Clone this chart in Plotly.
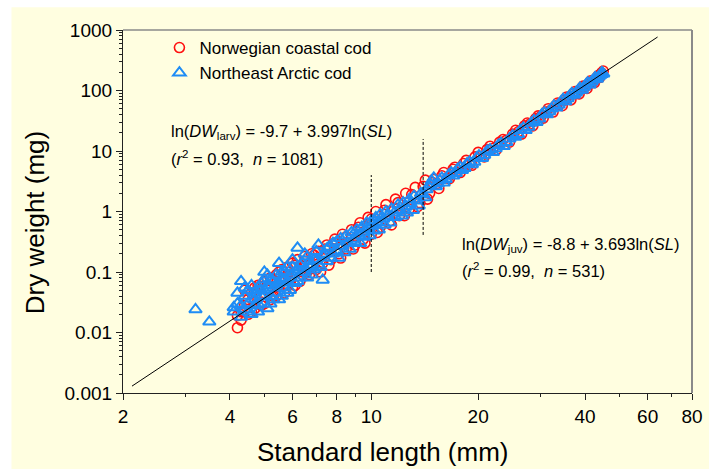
import plotly.graph_objects as go

# ---- data ----
ncc_sl = [4.2, 4.2, 4.3, 4.4, 4.5, 4.5, 4.6, 4.7, 4.8, 4.9, 5.0, 5.0, 5.1, 5.2, 5.3, 5.4, 5.5, 5.6,
          5.7, 5.8, 5.9, 6.0, 6.1, 6.2, 6.4, 6.5, 6.6, 6.8, 7.0, 7.1, 7.3, 7.5, 7.7, 7.9, 8.1, 8.3,
          8.5, 8.8, 9.0, 9.3, 9.5, 9.8, 10.0, 10.3, 10.6, 11.0, 11.3, 11.7, 12.0, 12.5, 12.8, 13.3,
          13.7, 14.2, 14.6, 15.0, 15.5, 16.0, 16.6, 17.2, 17.8, 18.5, 19.2, 20.0, 20.8, 21.6, 22.5,
          23.5, 24.5, 25.5, 26.5, 27.5, 28.5, 29.5, 30.5, 31.5, 32.5, 33.5, 34.5, 35.5, 36.5, 37.5,
          38.5, 39.5, 40.5, 41.5, 42.5, 43.5, 44.5, 45.0, 44.0]
ncc_dw = [0.012, 0.019, 0.022, 0.028, 0.020, 0.035, 0.045, 0.025, 0.060, 0.032, 0.070, 0.030, 0.050,
          0.080, 0.040, 0.090, 0.050, 0.110, 0.060, 0.120, 0.070, 0.140, 0.060, 0.160, 0.090, 0.180,
          0.100, 0.200, 0.110, 0.220, 0.140, 0.280, 0.160, 0.350, 0.200, 0.420, 0.240, 0.500, 0.280,
          0.650, 0.350, 0.800, 0.420, 1.00, 0.55, 1.30, 0.70, 1.60, 0.85, 2.0, 1.1, 2.5, 1.4, 3.3,
          2.0, 3.4, 2.4, 4.4, 3.5, 5.4, 4.4, 7.0, 5.8, 9.5, 8.0, 12.0, 10.5, 15.5, 14.0, 22.0, 19.0,
          29.0, 26.0, 38.0, 35.0, 50.0, 44.0, 62.0, 56.0, 78.0, 70.0, 96.0, 88.0, 118.0, 108.0,
          145.0, 135.0, 175.0, 195.0, 210.0, 165.0]
ncc_extra = [(4.3, 0.016), (4.4, 0.05), (4.6, 0.022), (4.7, 0.055), (4.9, 0.028), (5.1, 0.075),
             (5.2, 0.035), (5.4, 0.04), (5.5, 0.1), (5.7, 0.045), (5.8, 0.09), (6.0, 0.055),
             (6.1, 0.13), (6.3, 0.07), (6.5, 0.15), (6.7, 0.09), (6.9, 0.19), (7.2, 0.1),
             (7.4, 0.24), (7.6, 0.13), (7.9, 0.3), (8.2, 0.17), (8.5, 0.38), (8.9, 0.24),
             (9.2, 0.55), (9.6, 0.3), (10.0, 0.75), (10.4, 0.45), (10.9, 1.05), (11.4, 0.6),
             (11.9, 1.4), (12.4, 0.85), (13.0, 1.9), (13.5, 1.2), (14.0, 2.6), (14.4, 1.6),
             (14.9, 3.0), (15.3, 2.9), (15.8, 3.9), (16.4, 3.6), (17.0, 5.0), (17.6, 4.8),
             (18.2, 6.2), (18.9, 6.0), (19.6, 8.0), (20.4, 8.2), (21.2, 10.6), (22.0, 11.0),
             (23.0, 14.0), (24.0, 15.0), (25.0, 19.0), (26.0, 21.0), (27.0, 26.0), (28.0, 28.0),
             (29.0, 34.0), (30.0, 37.0), (31.0, 44.0), (32.0, 47.0), (33.0, 56.0), (34.0, 60.0),
             (35.0, 70.0), (36.0, 76.0), (37.0, 88.0), (38.0, 94.0), (39.0, 108.0), (40.0, 115.0),
             (41.0, 130.0), (42.0, 140.0), (43.0, 160.0), (44.0, 180.0)]

nea_sl = [3.2, 3.5, 4.1, 4.1, 4.2, 4.3, 4.3, 4.4, 4.4, 4.5, 4.5, 4.6, 4.6, 4.7, 4.7, 4.8, 4.8, 4.9,
          4.9, 5.0, 5.0, 5.0, 5.1, 5.1, 5.2, 5.2, 5.3, 5.3, 5.4, 5.4, 5.5, 5.5, 5.6, 5.6, 5.7, 5.7,
          5.8, 5.8, 5.9, 6.0, 6.0, 6.1, 6.2, 6.2, 6.3, 6.4, 6.5, 6.6, 6.7, 6.8, 6.9, 7.0, 7.1, 7.3,
          7.3, 7.5, 7.6, 7.8, 8.0, 8.1, 8.3, 8.5, 8.7, 8.9, 9.1, 9.3, 9.5, 9.7, 9.9, 10.1, 10.3,
          10.5, 10.8, 11.0, 11.3, 11.6, 11.9, 12.2, 12.5, 12.8, 13.1, 13.5, 13.8, 14.2, 14.5, 14.8,
          15.2, 15.6, 16.0, 16.5, 17.0, 17.5, 18.0, 18.6, 19.2, 19.8, 20.5, 21.2, 22.0, 22.8, 23.6,
          24.5, 25.4, 26.3, 27.2, 28.2, 29.2, 30.2, 31.2, 32.2, 33.2, 34.2, 35.2, 36.2, 37.2, 38.2,
          39.2, 40.2, 41.2, 42.2, 43.2, 44.2, 45.0, 44.6]
nea_dw = [0.024, 0.015, 0.022, 0.026, 0.030, 0.018, 0.070, 0.024, 0.040, 0.030, 0.050, 0.020, 0.036,
          0.045, 0.028, 0.055, 0.022, 0.040, 0.065, 0.030, 0.100, 0.050, 0.025, 0.060, 0.040, 0.075,
          0.035, 0.055, 0.090, 0.045, 0.140, 0.065, 0.040, 0.080, 0.100, 0.055, 0.070, 0.120, 0.050,
          0.090, 0.160, 0.065, 0.250, 0.110, 0.080, 0.140, 0.100, 0.180, 0.120, 0.090, 0.160, 0.220,
          0.130, 0.074, 0.190, 0.150, 0.260, 0.200, 0.320, 0.170, 0.270, 0.400, 0.240, 0.350, 0.500,
          0.300, 0.450, 0.650, 0.400, 0.600, 0.800, 0.500, 0.750, 1.00, 0.65, 0.95, 1.30, 0.85, 1.20,
          1.60, 1.05, 1.50, 2.00, 1.70, 2.60, 3.20, 2.6, 3.3, 3.0, 4.0, 3.9, 5.0, 4.8, 6.2, 6.0, 7.8,
          7.6, 10.0, 9.5, 12.5, 12.0, 16.0, 17.0, 22.0, 22.0, 29.0, 30.0, 40.0, 40.0, 50.0, 52.0,
          65.0, 66.0, 82.0, 84.0, 100.0, 102.0, 125.0, 125.0, 150.0, 155.0, 180.0, 190.0, 200.0]
nea_extra = [(4.2, 0.045), (4.3, 0.028), (4.4, 0.055), (4.5, 0.022), (4.6, 0.06), (4.7, 0.035),
             (4.8, 0.03), (4.9, 0.05), (5.0, 0.04), (5.0, 0.075), (5.1, 0.09), (5.2, 0.03),
             (5.3, 0.07), (5.4, 0.06), (5.5, 0.035), (5.6, 0.1), (5.7, 0.075), (5.8, 0.045),
             (5.9, 0.09), (6.0, 0.12), (6.1, 0.1), (6.2, 0.07), (6.3, 0.13), (6.4, 0.1),
             (6.5, 0.2), (6.6, 0.08), (6.7, 0.15), (6.8, 0.13), (6.9, 0.11), (7.0, 0.16),
             (7.1, 0.28), (7.2, 0.12), (7.4, 0.2), (7.5, 0.24), (7.7, 0.17), (7.8, 0.3),
             (8.0, 0.22), (8.2, 0.36), (8.4, 0.21), (8.6, 0.3), (8.8, 0.45), (9.0, 0.32),
             (9.2, 0.4), (9.4, 0.55), (9.6, 0.38), (9.8, 0.52), (10.0, 0.7), (10.2, 0.48),
             (10.4, 0.65), (10.6, 0.9), (10.9, 0.6), (11.1, 0.85), (11.4, 1.1), (11.7, 0.8),
             (12.0, 1.05), (12.3, 1.4), (12.6, 0.95), (12.9, 1.35), (13.2, 1.8), (13.6, 1.25),
             (14.0, 1.9), (14.3, 2.3), (14.7, 2.8), (15.0, 3.6), (15.4, 2.9), (15.8, 3.6),
             (16.2, 3.4), (16.8, 4.4), (17.3, 4.3), (17.8, 5.4), (18.3, 5.2), (18.9, 6.6),
             (19.5, 6.6), (20.1, 8.4), (20.8, 8.6), (21.6, 10.5), (22.4, 11.0), (23.2, 13.5),
             (24.0, 14.0), (25.0, 18.0), (25.9, 19.0), (26.8, 24.0), (27.7, 25.0), (28.7, 32.0),
             (29.7, 34.0), (30.7, 43.0), (31.7, 45.0), (32.7, 56.0), (33.7, 58.0), (34.7, 72.0),
             (35.7, 74.0), (36.7, 90.0), (37.7, 92.0), (38.7, 110.0), (39.7, 114.0), (40.7, 135.0),
             (41.7, 140.0), (42.7, 165.0), (43.7, 170.0), (44.5, 185.0)]

fit_sl = [2.12, 64.0]
fit_dw = [0.0013, 766.0]

split1_sl = [10.0, 10.0]
split1_dw = [0.1, 4.0]
split2_sl = [14.0, 14.0]
split2_dw = [0.41, 15.8]

x_ticks = [2, 4, 6, 8, 10, 20, 40, 60, 80]
x_minor = [3, 5, 7, 9, 30, 50, 70]
y_ticks = [0.001, 0.01, 0.1, 1, 10, 100, 1000]
y_ticklabels = ["0.001", "0.01", "0.1", "1", "10", "100", "1000"]
y_minor = [m * d for d in [0.001, 0.01, 0.1, 1, 10, 100] for m in range(2, 10)]

FONT = "Liberation Sans, Arial, sans-serif"
RED = "#FF1010"
BLUE = "#1E8CF5"

ncc_x = ncc_sl + [p[0] for p in ncc_extra]
ncc_y = ncc_dw + [p[1] for p in ncc_extra]
nea_x = nea_sl + [p[0] for p in nea_extra]
nea_y = nea_dw + [p[1] for p in nea_extra]

fig = go.Figure()
fig.add_trace(go.Scatter(x=ncc_x, y=ncc_y, mode="markers", name="Norwegian coastal cod",
                         legendgroup="a",
                         marker=dict(symbol="circle-open", size=10, color=RED, line=dict(width=1.6, color=RED))))
fig.add_trace(go.Scatter(x=nea_x, y=nea_y, mode="markers", name="Northeast Arctic cod",
                         legendgroup="b",
                         marker=dict(symbol="triangle-up-open", size=11, color=BLUE, line=dict(width=2, color=BLUE))))
fig.add_trace(go.Scatter(x=fit_sl, y=fit_dw, mode="lines", showlegend=False,
                         line=dict(color="black", width=1)))
for xs, ys in [(split1_sl, split1_dw), (split2_sl, split2_dw)]:
    fig.add_trace(go.Scatter(x=xs, y=ys, mode="lines", showlegend=False,
                             line=dict(color="black", width=1, dash="3px,2px")))

# yellow page background and grey top/right frame
fig.add_shape(type="rect", xref="paper", yref="paper", x0=-0.196, x1=1.03, y0=-0.21, y1=1.063,
              fillcolor="#FFFEE0", line=dict(width=0), layer="below")
fig.add_shape(type="line", xref="paper", yref="paper", x0=0, x1=1, y0=1, y1=1,
              line=dict(color="#8a8a8a", width=1.5))
fig.add_shape(type="line", xref="paper", yref="paper", x0=1, x1=1, y0=0, y1=1,
              line=dict(color="#8a8a8a", width=2))

ann_font = dict(family=FONT, size=16.5, color="black")
fig.add_annotation(xref="paper", yref="paper", x=0.081, y=0.719, xanchor="left", yanchor="middle",
                   showarrow=False, font=ann_font,
                   text="ln(<i>DW</i><sub>larv</sub>) = -9.7 + 3.997ln(<i>SL</i>)")
fig.add_annotation(xref="paper", yref="paper", x=0.081, y=0.647, xanchor="left", yanchor="middle",
                   showarrow=False, font=ann_font,
                   text="(<i>r</i><sup>2</sup> = 0.93,&nbsp; <i>n</i> = 1081)")
fig.add_annotation(xref="paper", yref="paper", x=0.593, y=0.408, xanchor="left", yanchor="middle",
                   showarrow=False, font=ann_font,
                   text="ln(<i>DW</i><sub>juv</sub>) = -8.8 + 3.693ln(<i>SL</i>)")
fig.add_annotation(xref="paper", yref="paper", x=0.593, y=0.339, xanchor="left", yanchor="middle",
                   showarrow=False, font=ann_font,
                   text="(<i>r</i><sup>2</sup> = 0.99,&nbsp; <i>n</i> = 531)")

# axis titles
fig.add_annotation(xref="paper", yref="paper", x=(386 - 123) / 577, y=(393 - 452) / 363,
                   xanchor="center", yanchor="middle", showarrow=False,
                   font=dict(family=FONT, size=26, color="black"), text="Standard length (mm)")
fig.add_annotation(xref="paper", yref="paper", x=(34 - 123) / 577, y=(393 - 223) / 363,
                   xanchor="center", yanchor="middle", showarrow=False, textangle=-90,
                   font=dict(family=FONT, size=26, color="black"), text="Dry weight (mg)")

fig.update_layout(
    width=715, height=469,
    margin=dict(l=123, r=15, t=30, b=76),
    paper_bgcolor="white", plot_bgcolor="white",
    font=dict(family=FONT, color="black"),
    legend=dict(x=0.064, y=1.0, xanchor="left", yanchor="top", bgcolor="rgba(0,0,0,0)",
                font=dict(family=FONT, size=17), tracegroupgap=0, itemwidth=30),
    xaxis=dict(type="log", range=[0.30103, 1.90309], tickvals=x_ticks, ticktext=[str(v) for v in x_ticks],
               ticks="outside", ticklen=6, tickwidth=1, tickcolor="#222", showgrid=False, zeroline=False,
               showline=True, linecolor="#222", linewidth=1.2, tickfont=dict(family=FONT, size=19),
               minor=dict(tickvals=x_minor, ticks="outside", ticklen=3, tickcolor="#222", showgrid=False)),
    yaxis=dict(type="log", range=[-3, 3], tickvals=y_ticks, ticktext=y_ticklabels,
               ticks="outside", ticklen=6, tickwidth=1, tickcolor="#222", showgrid=False, zeroline=False,
               showline=True, linecolor="#222", linewidth=1.2, tickfont=dict(family=FONT, size=19),
               minor=dict(tickvals=y_minor, ticks="outside", ticklen=3, tickcolor="#222", showgrid=False)),
)

fig.write_html("out.html", config={"displayModeBar": False},
               post_script="document.body.style.margin='0';")
